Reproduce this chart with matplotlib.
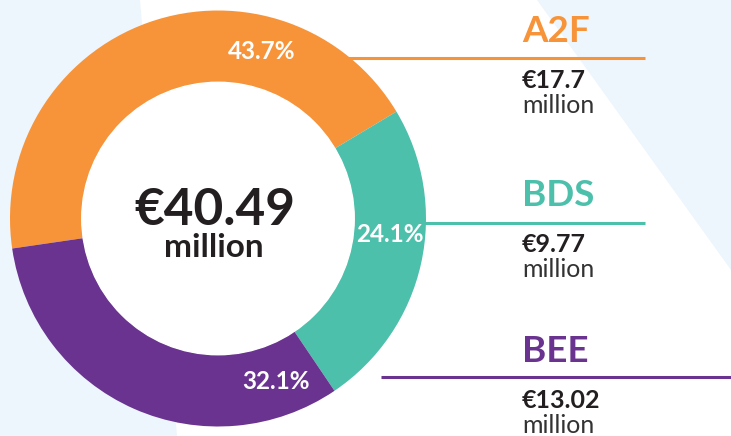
import matplotlib
matplotlib.use("Agg")
import matplotlib.pyplot as plt
from matplotlib.patches import Circle, Polygon
import numpy as np

# Funding split (EUR million)
programs = ["A2F", "BDS", "BEE"]
amounts = [17.7, 9.77, 13.02]
shares = [43.7, 24.1, 32.1]
total = 40.49

colors = ["#F7943A", "#4DC0AB", "#6A3390"]
text_dark = "#231F20"
bg_blue = "#EDF6FC"

plt.rcParams["font.family"] = ["Lato", "DejaVu Sans"]

W, H = 731, 436
fig = plt.figure(figsize=(W / 100, H / 100), dpi=100)

# background layer in pixel coordinates (y down)
bg = fig.add_axes([0, 0, 1, 1])
bg.set_xlim(0, W)
bg.set_ylim(H, 0)
bg.axis("off")
bg.add_patch(Polygon([(0, 0), (140, 0), (177, H), (0, H)], closed=True, color=bg_blue, lw=0))
bg.add_patch(Polygon([(537, 0), (W, 0), (W, 270)], closed=True, color=bg_blue, lw=0))

# donut
cx, cy, r = 218, 218.5, 208
ring = 0.345
pie_ax = fig.add_axes([(cx - r) / W, (H - cy - r) / H, 2 * r / W, 2 * r / H])
pie_ax.patch.set_alpha(0)
wedges, _ = pie_ax.pie(amounts, colors=colors, startangle=188.3, counterclock=False,
                       radius=1, wedgeprops=dict(width=ring, linewidth=0))
pie_ax.add_patch(Circle((0, 0), 1 - ring, color="white", zorder=3))
pie_ax.set_xlim(-1, 1)
pie_ax.set_ylim(-1, 1)
pie_ax.set_aspect("equal")
pie_ax.axis("off")

# percentage labels (placed by hand like the original artwork)
label_angles = [75.5, -5.4, -70.5]
label_radius = 0.83
for share, ang in zip(shares, label_angles):
    a = np.deg2rad(ang)
    pie_ax.text(label_radius * np.cos(a), label_radius * np.sin(a), f"{share}%",
                color="white", fontsize=17.5, fontweight="bold", ha="center", va="center", zorder=5)

# centre total
pie_ax.text(-0.015, (cy - 225) / r, f"€{total}", color=text_dark, fontsize=37, fontweight="bold",
            ha="center", va="baseline", zorder=5)
pie_ax.text(-0.02, (cy - 257) / r, "million", color=text_dark, fontsize=24, fontweight="bold",
            ha="center", va="baseline", zorder=5)

# side legend
text_x = 522
title_y = [42, 206, 362]
rule_y = [58, 223, 377]
rule_x0 = [340, 420, 381]
rule_x1 = [645, 645, W]
for i, name in enumerate(programs):
    bg.text(text_x, title_y[i], name, color=colors[i], fontsize=26.5, fontweight="bold", va="baseline")
    bg.plot([rule_x0[i], rule_x1[i]], [rule_y[i], rule_y[i]], color=colors[i], lw=2.2,
            solid_capstyle="butt")
    bg.text(text_x, title_y[i] + 46, f"€{amounts[i]}", color=text_dark, fontsize=18,
            fontweight="bold", va="baseline")
    bg.text(text_x, title_y[i] + 71, "million", color="#333333", fontsize=18, va="baseline")

fig.savefig("out.png", dpi=100)
